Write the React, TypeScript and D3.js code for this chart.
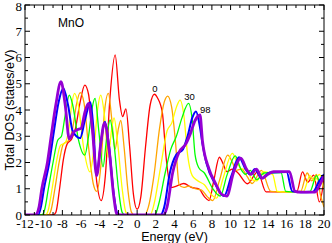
import React from 'react';
import * as d3 from 'd3';

// knots: [energy (eV), DOS (states/eV)]
const dosRed: [number, number][] = [
  [-12, 0], [-9.0, 0], [-8.7, 0.1], [-8.3, 1.0], [-7.9, 2.1], [-7.5, 2.7], [-7.0, 2.9], [-6.6, 3.3],
  [-6.1, 4.3], [-5.6, 4.95], [-5.2, 4.6], [-4.8, 3.2], [-4.3, 1.2], [-3.85, 0.55], [-3.4, 1.5],
  [-2.9, 4.5], [-2.35, 6.1], [-1.9, 4.4], [-1.55, 3.75], [-1.2, 4.04], [-0.8, 2.6], [-0.4, 0.8],
  [0, 0.22], [0.4, 0.7], [0.9, 2.6], [1.4, 4.2], [1.85, 4.6], [2.2, 4.45], [2.7, 3.9], [3.1, 2.2],
  [3.6, 1.05], [4.2, 1.1], [5.0, 1.2], [5.8, 1.05], [6.6, 1.0], [7.2, 0.7], [7.7, 0.55], [8.2, 1.3],
  [8.8, 2.2], [9.2, 1.95], [9.6, 1.65], [10.2, 1.75], [10.8, 1.6], [11.8, 1.19], [12.9, 1.64],
  [13.8, 0.88], [15, 0.88], [17.1, 0.9], [17.7, 1.64], [18.25, 1.25], [18.9, 1.52], [19.5, 0.5], [20, 1.37],
];
const dosOrange: [number, number][] = [
  [-12, 0], [-9.5, 0], [-9.2, 0.2], [-8.8, 1.0], [-8.3, 2.1], [-7.9, 2.7], [-7.3, 2.85], [-6.9, 3.3],
  [-6.5, 4.2], [-6.1, 4.66], [-5.7, 4.3], [-5.2, 2.6], [-4.7, 1.2], [-4.33, 0.9], [-3.9, 1.8],
  [-3.5, 3.9], [-3.08, 4.63], [-2.7, 3.6], [-2.37, 2.5], [-2.0, 3.3], [-1.75, 3.6], [-1.4, 2.6],
  [-1.0, 1.0], [-0.6, 0.1], [-0.3, 0], [0.8, 0], [1.2, 0.3], [1.8, 1.5], [2.4, 3.3], [2.9, 4.3],
  [3.27, 4.53], [3.7, 4.1], [4.1, 2.8], [4.5, 1.15], [5.0, 1.05], [5.5, 1.1], [6.2, 1.0], [6.9, 0.95],
  [7.5, 0.7], [8.1, 0.55], [8.8, 1.3], [9.7, 2.28], [10.2, 2.0], [10.6, 1.7], [11.2, 1.75], [11.8, 1.45],
  [12.3, 1.2], [13.3, 1.7], [14.3, 0.9], [15.5, 0.88], [17.5, 0.9], [18.2, 1.6], [18.7, 1.3],
  [19.2, 1.55], [19.6, 0.8], [20, 0.3],
];
const dosYellow: [number, number][] = [
  [-12, 0], [-9.8, 0], [-9.5, 0.2], [-9.1, 1.0], [-8.6, 2.1], [-8.2, 2.65], [-7.7, 2.75], [-7.3, 3.3],
  [-7.0, 4.2], [-6.7, 4.63], [-6.3, 4.2], [-5.7, 2.5], [-5.04, 1.64], [-4.6, 2.6], [-4.2, 4.1],
  [-3.9, 4.57], [-3.5, 3.8], [-3.1, 2.2], [-2.75, 3.2], [-2.47, 3.7], [-2.1, 2.8], [-1.6, 1.0],
  [-1.2, 0.1], [-0.9, 0], [1.4, 0], [1.8, 0.4], [2.5, 1.8], [3.2, 3.2], [3.7, 3.5], [4.2, 4.1],
  [4.6, 4.38], [5.0, 3.8], [5.4, 2.3], [5.9, 1.5], [6.5, 1.3], [7.2, 1.15], [7.9, 0.8], [8.5, 0.64],
  [9.2, 1.4], [10.2, 2.35], [10.7, 2.0], [11.2, 1.75], [11.7, 1.75], [12.3, 1.35], [12.8, 1.3],
  [13.5, 1.65], [14.5, 1.55], [15.0, 0.9], [16, 0.88], [17.8, 0.9], [18.5, 1.5], [19.0, 1.3],
  [19.5, 1.55], [20, 1.0],
];
const dosGreen: [number, number][] = [
  [-12, 0], [-10.2, 0], [-9.9, 0.2], [-9.5, 1.0], [-9.0, 2.0], [-8.5, 2.85], [-8.1, 3.0], [-7.7, 3.8],
  [-7.26, 4.57], [-6.9, 4.2], [-6.3, 2.9], [-5.6, 2.28], [-5.2, 3.0], [-4.8, 4.1], [-4.5, 4.44],
  [-4.1, 3.2], [-3.65, 1.83], [-3.3, 2.8], [-2.9, 3.62], [-2.5, 2.8], [-2.0, 1.0], [-1.6, 0.1],
  [-1.3, 0], [1.9, 0], [2.3, 0.4], [3.0, 1.6], [3.6, 2.5], [4.2, 3.0], [4.8, 3.7], [5.5, 4.25],
  [5.9, 3.6], [6.2, 2.3], [6.6, 1.8], [7.2, 1.6], [8.1, 1.0], [8.9, 0.72], [9.6, 1.5], [10.5, 2.25],
  [11.1, 1.75], [11.6, 1.55], [12.1, 1.7], [12.8, 1.35], [13.6, 1.6], [15.4, 1.62], [15.9, 0.9],
  [17, 0.88], [18.5, 0.9], [19.2, 1.5], [19.6, 1.2], [20, 1.5],
];
const dosBlue: [number, number][] = [
  [-12, 0], [-10.6, 0], [-10.3, 0.3], [-9.97, 1.0], [-9.4, 2.0], [-8.9, 3.2], [-8.4, 4.3], [-7.9, 4.83],
  [-7.4, 4.2], [-6.9, 3.2], [-6.1, 2.93], [-5.6, 3.6], [-5.0, 4.3], [-4.7, 3.4], [-4.33, 1.5],
  [-3.9, 2.7], [-3.45, 3.55], [-3.0, 2.6], [-2.5, 0.8], [-2.1, 0.05], [-1.8, 0], [2.5, 0], [2.9, 0.3],
  [3.5, 1.6], [4.2, 2.3], [4.9, 2.5], [5.4, 3.0], [5.9, 3.7], [6.3, 3.94], [6.7, 3.4], [7.0, 2.7],
  [7.4, 2.0], [8.4, 1.15], [9.3, 0.72], [10.1, 1.5], [10.9, 2.2], [11.6, 1.75], [12.1, 1.55],
  [12.6, 1.75], [13.3, 1.4], [14.2, 1.62], [16.0, 1.64], [16.6, 0.9], [17.5, 0.87], [18.8, 0.88],
  [19.5, 1.3], [20, 1.55],
];
const dosPurple: [number, number][] = [
  [-12, 0], [-10.9, 0], [-10.5, 0.3], [-10.2, 1.0], [-9.6, 2.0], [-9.2, 3.0], [-8.7, 4.2], [-8.15, 5.08],
  [-7.7, 4.2], [-7.26, 2.9], [-6.8, 3.15], [-6.4, 3.25], [-6.0, 3.3], [-5.6, 3.9], [-5.2, 4.25],
  [-4.8, 3.3], [-4.33, 1.5], [-3.9, 2.7], [-3.5, 3.5], [-3.0, 2.5], [-2.5, 0.7], [-2.2, 0.05],
  [-1.9, 0], [2.8, 0], [3.2, 0.3], [3.8, 1.6], [4.5, 2.4], [5.2, 2.7], [5.7, 3.1], [6.2, 3.6],
  [6.73, 3.81], [7.0, 2.8], [7.7, 1.75], [8.4, 1.2], [9.0, 0.8], [9.6, 0.72], [10.3, 1.6], [11.1, 2.17],
  [11.7, 1.75], [12.2, 1.55], [12.75, 1.75], [13.4, 1.4], [14.0, 1.55], [14.6, 1.65], [16.3, 1.65],
  [16.9, 0.9], [17.5, 0.87], [19.0, 0.87], [19.5, 1.1], [20, 1.5],
];

const series = [
  { values: dosRed, color: '#ff0000', width: 1.3 },
  { values: dosOrange, color: '#ffa500', width: 1.3 },
  { values: dosYellow, color: '#ffff00', width: 1.3 },
  { values: dosGreen, color: '#00ff00', width: 1.3 },
  { values: dosBlue, color: '#0000ff', width: 2 },
  { values: dosPurple, color: '#9400d3', width: 2.8 },
];

// curve labels: [energy, dos] anchor of the text
const curveLabels: { text: string; at: [number, number] }[] = [
  { text: '0', at: [1.9, 4.7] },
  { text: '30', at: [5.6, 4.4] },
  { text: '98', at: [7.3, 3.9] },
];

const xTicks = d3.range(-12, 21, 2);
const yTicks = d3.range(0, 9, 1);

const serif = "'Liberation Serif', 'DejaVu Serif', serif";
const sans = "'Liberation Sans', Arial, sans-serif";

export default function App() {
  const width = 332;
  const height = 243;
  const x = d3.scaleLinear().domain([-12, 20]).range([25, 324]);
  const y = d3.scaleLinear().domain([0, 8]).range([215, 5]);

  const line = d3
    .line<[number, number]>()
    .x(d => x(d[0]))
    .y(d => y(d[1]))
    .curve(d3.curveMonotoneX);

  const xMinor = d3.range(-11, 20, 2);
  const yMinor = d3.range(0.5, 8, 1);

  return (
    <svg width={width} height={height} style={{ position: 'absolute', left: 0, top: 0 }}>
      <rect width={width} height={height} fill="#fff" />
      <defs>
        <clipPath id="plot">
          <rect x={x(-12)} y={y(8)} width={x(20) - x(-12)} height={y(0) - y(8)} />
        </clipPath>
      </defs>

      <g clipPath="url(#plot)">
        {series.map((s, i) => (
          <path key={i} d={line(s.values) || ''} fill="none" stroke={s.color} strokeWidth={s.width} strokeLinejoin="round" />
        ))}
      </g>

      <rect x={x(-12)} y={y(8)} width={x(20) - x(-12)} height={y(0) - y(8)} fill="none" stroke="#000" strokeWidth={1} />

      {xTicks.map(t => (
        <g key={'x' + t}>
          <line x1={x(t)} x2={x(t)} y1={y(0)} y2={y(0) - 5} stroke="#000" />
          <line x1={x(t)} x2={x(t)} y1={y(8)} y2={y(8) + 5} stroke="#000" />
          <text x={x(t)} y={228} textAnchor="middle" fontFamily={serif} fontSize={13}>{t}</text>
        </g>
      ))}
      {xMinor.map(t => (
        <g key={'xm' + t}>
          <line x1={x(t)} x2={x(t)} y1={y(0)} y2={y(0) - 3} stroke="#000" />
          <line x1={x(t)} x2={x(t)} y1={y(8)} y2={y(8) + 3} stroke="#000" />
        </g>
      ))}
      {yTicks.map(t => (
        <g key={'y' + t}>
          <line x1={x(-12)} x2={x(-12) + 5} y1={y(t)} y2={y(t)} stroke="#000" />
          <line x1={x(20)} x2={x(20) - 5} y1={y(t)} y2={y(t)} stroke="#000" />
          <text x={22} y={y(t) + (t === 8 ? 1 : 0)} dy="0.35em" textAnchor="end" fontFamily={serif} fontSize={13}>{t}</text>
        </g>
      ))}
      {yMinor.map(t => (
        <g key={'ym' + t}>
          <line x1={x(-12)} x2={x(-12) + 3} y1={y(t)} y2={y(t)} stroke="#000" />
          <line x1={x(20)} x2={x(20) - 3} y1={y(t)} y2={y(t)} stroke="#000" />
        </g>
      ))}

      <text x={58} y={27} fontFamily={sans} fontSize={12}>MnO</text>
      {curveLabels.map(l => (
        <text key={l.text} x={x(l.at[0])} y={y(l.at[1])} textAnchor="middle" fontFamily={sans} fontSize={9.5}>{l.text}</text>
      ))}

      <text x={(x(-12) + x(20)) / 2} y={240.5} textAnchor="middle" fontFamily={sans} fontSize={12.5}>Energy (eV)</text>
      <text transform={`translate(13.5, ${(y(0) + y(8)) / 2}) rotate(-90)`} textAnchor="middle" fontFamily={sans} fontSize={12.5}>Total DOS (states/eV)</text>
    </svg>
  );
}
